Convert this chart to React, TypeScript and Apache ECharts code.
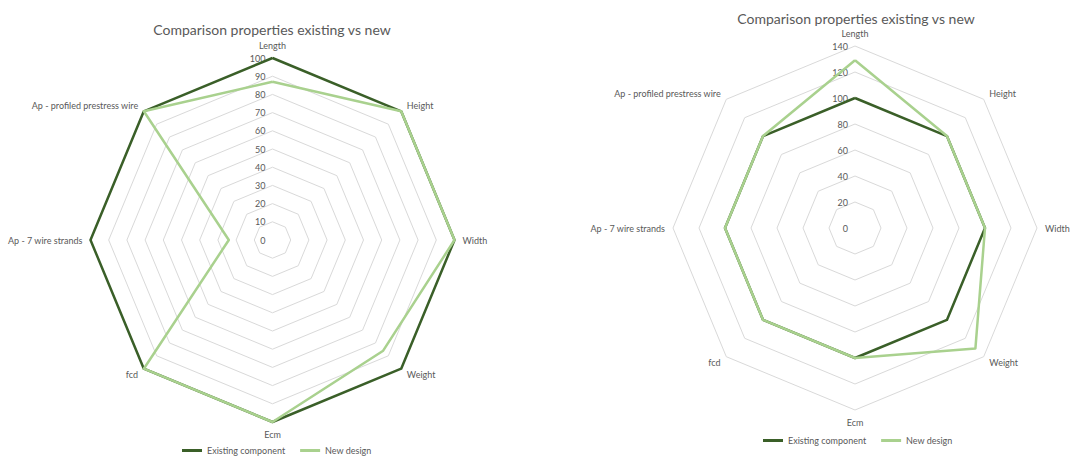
import React, { useEffect, useRef } from "react";
import * as echarts from "echarts";

const titleText = "Comparison properties existing vs new";
const categories = [
  "Length",
  "Height",
  "Width",
  "Weight",
  "Ecm",
  "fcd",
  "Ap - 7 wire strands",
  "Ap - profiled prestress wire",
];
const seriesNames = ["Existing component", "New design"];

const leftExisting = [100, 100, 100, 100, 100, 100, 100, 100];
const leftNew = [87, 100, 100, 86, 100, 100, 24, 100];
const leftMax = 100;
const leftStep = 10;

const rightExisting = [100, 100, 100, 100, 100, 100, 100, 100];
const rightNew = [129, 100, 100, 131, 100, 100, 100, 100];
const rightMax = 140;
const rightStep = 20;

const colors = ["#3A5F28", "#A9D18E"];
const textColor = "#595959";
const gridColor = "#D9D9D9";
const fontFamily = "Lato, 'Open Sans', sans-serif";

// ECharts radar places indicators counter-clockwise; the reference runs clockwise.
const toCCW = <T,>(arr: T[]): T[] => [arr[0], ...arr.slice(1).reverse()];

export default function App() {
  const ref = useRef<HTMLDivElement>(null);
  useEffect(() => {
    if (!ref.current) return;
    const chart = echarts.init(ref.current, undefined, { renderer: "svg" });

    const radarBase = (center: [number, number], radius: number, max: number, step: number) => ({
      center,
      radius,
      startAngle: 90,
      shape: "polygon",
      splitNumber: max / step,
      indicator: toCCW(categories).map((name) => ({ name, min: 0, max })),
      axisName: { color: textColor, fontSize: 9, fontFamily },
      nameGap: 8,
      axisLine: { show: false },
      splitLine: { lineStyle: { color: gridColor, width: 1 } },
      splitArea: { show: false },
      axisTick: { show: false },
      axisLabel: { show: false },
    });

    const radiusAxisBase = (polarIndex: number, max: number, step: number) => ({
      polarIndex,
      type: "value",
      min: 0,
      max,
      interval: step,
      axisLine: { show: false },
      axisTick: { show: false },
      splitLine: { show: false },
      axisLabel: { color: textColor, fontSize: 9, fontFamily, margin: 7 },
    });

    const radarSeries = (radarIndex: number, existing: number[], nw: number[]) => ({
      type: "radar",
      radarIndex,
      symbol: "none",
      data: [
        {
          name: seriesNames[0],
          value: toCCW(existing),
          lineStyle: { color: colors[0], width: 2.5 },
          itemStyle: { color: colors[0] },
        },
        {
          name: seriesNames[1],
          value: toCCW(nw),
          lineStyle: { color: colors[1], width: 2.5 },
          itemStyle: { color: colors[1] },
        },
      ],
    });

    const legendBase = (left: number, top: number) => ({
      left,
      top,
      data: seriesNames,
      icon: "rect",
      itemWidth: 20,
      itemHeight: 3,
      itemGap: 15,
      padding: 0,
      textStyle: { color: textColor, fontSize: 9, fontFamily },
    });

    chart.setOption({
      animation: false,
      backgroundColor: "#ffffff",
      title: [
        {
          text: titleText,
          left: 267,
          top: 17,
          textAlign: "center",
          textStyle: { color: textColor, fontSize: 14, fontWeight: "normal", fontFamily },
        },
        {
          text: titleText,
          left: 851,
          top: 6,
          textAlign: "center",
          textStyle: { color: textColor, fontSize: 14, fontWeight: "normal", fontFamily },
        },
      ],
      legend: [legendBase(182, 446), legendBase(763, 436)],
      radar: [
        radarBase([272.5, 240], 182, leftMax, leftStep),
        radarBase([855, 228], 182, rightMax, rightStep),
      ],
      polar: [
        { center: [272.5, 240], radius: 182 },
        { center: [855, 228], radius: 182 },
      ],
      angleAxis: [
        { polarIndex: 0, show: false, startAngle: 90 },
        { polarIndex: 1, show: false, startAngle: 90 },
      ],
      radiusAxis: [
        radiusAxisBase(0, leftMax, leftStep),
        radiusAxisBase(1, rightMax, rightStep),
      ],
      series: [
        radarSeries(0, leftExisting, leftNew),
        radarSeries(1, rightExisting, rightNew),
      ],
    });
    return () => chart.dispose();
  }, []);
  return (
    <div
      ref={ref}
      style={{ position: "fixed", left: 0, top: 0, width: 1072, height: 459 }}
    />
  );
}
